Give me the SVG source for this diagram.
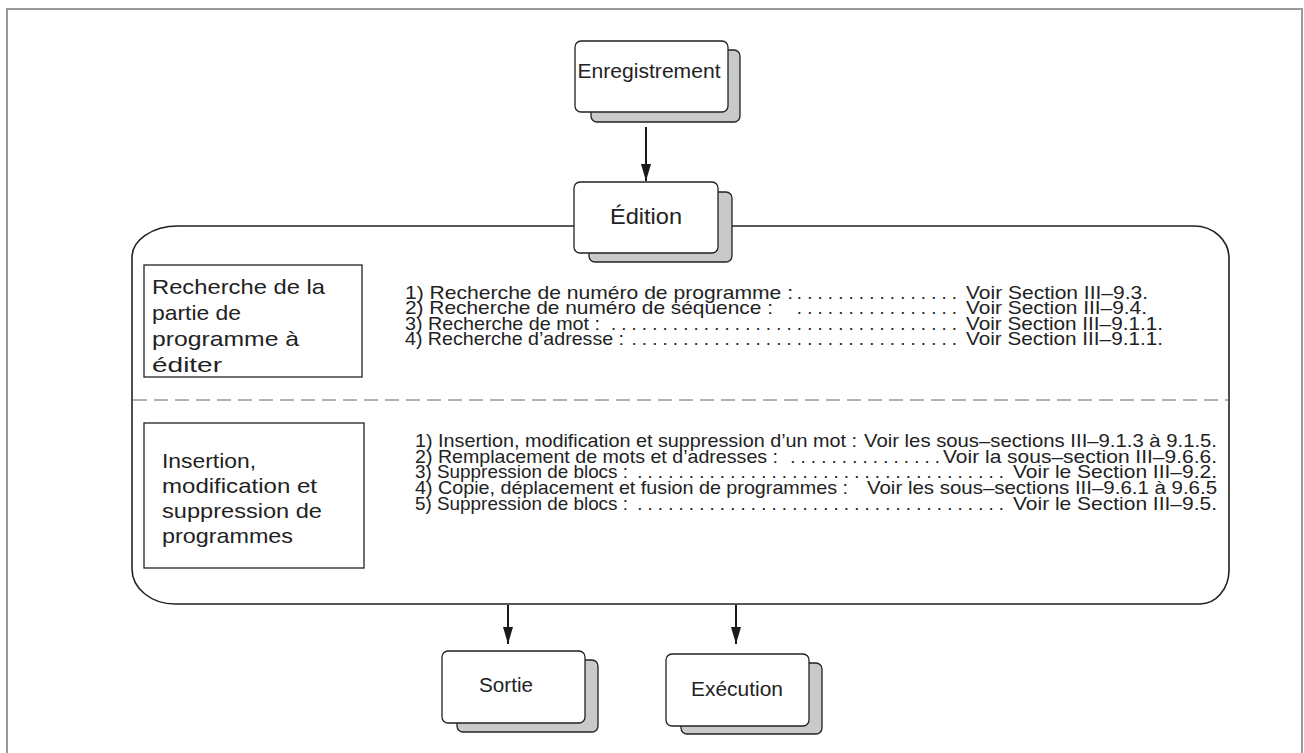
<svg xmlns="http://www.w3.org/2000/svg" width="1304" height="753" viewBox="0 0 1304 753">
  <style>
    .frame { fill: none; stroke: #9a9a9e; stroke-width: 2; }
    .container { fill: none; stroke: #222; stroke-width: 1.6; }
    .sep { stroke: #666; stroke-width: 1; stroke-dasharray: 14 7; }
    .shadow { fill: #c8c9cb; stroke: #222; stroke-width: 1.3; }
    .card { fill: #fff; stroke: #222; stroke-width: 1.3; }
    .box { fill: #fff; stroke: #222; stroke-width: 1.3; }
    .edge { stroke: #1a1a1a; stroke-width: 2; fill: none; marker-end: url(#arrow); }
    text { font-family: "Liberation Sans", Arial, sans-serif; fill: #222; }
    .title { font-size: 20px; text-anchor: middle; }
    .label { font-size: 21px; }
    .item { font-size: 18.6px; }
    .end { text-anchor: end; }
  </style>
  <defs>
    <marker id="arrow" markerUnits="userSpaceOnUse" markerWidth="18" markerHeight="12" refX="17" refY="5" orient="auto">
      <path d="M0,0 L17,5 L0,10 Z" fill="#1a1a1a"/>
    </marker>
  </defs>

  <!-- page frame -->
  <path class="frame" d="M7,760 V9 H1302 V760"/>

  <!-- editing area -->
  <g id="editing-area">
    <path class="container" d="M178,226 H1194 A35,32 0 0 1 1229,258 V570 A29,34 0 0 1 1200,604 H175 A43,35 0 0 1 132,569 V257 A46,31 0 0 1 178,226 Z"/>
    <line class="sep" x1="133" y1="400" x2="1228" y2="400"/>
  </g>

  <!-- connectors -->
  <g id="connectors">
    <line class="edge" x1="646" y1="127" x2="646" y2="181"/>
    <line class="edge" x1="508" y1="605" x2="508" y2="644"/>
    <line class="edge" x1="736" y1="605" x2="736" y2="644"/>
  </g>

  <g id="node-enregistrement">
    <rect class="shadow" x="591" y="50" width="149" height="72" rx="6"/>
    <rect class="card" x="575" y="41" width="153" height="71" rx="6"/>
    <text class="title" x="649" y="78" textLength="143" lengthAdjust="spacingAndGlyphs">Enregistrement</text>
  </g>

  <g id="node-edition">
    <rect class="shadow" x="589" y="192" width="143" height="70" rx="6"/>
    <rect class="card" x="574" y="182" width="144" height="71" rx="6"/>
    <text class="title" x="646" y="224" style="font-size:21.5px" textLength="72" lengthAdjust="spacingAndGlyphs">Édition</text>
  </g>

  <g id="node-recherche">
    <rect class="box" x="144" y="265" width="218" height="112"/>
    <text class="label" x="152" y="294" textLength="173" lengthAdjust="spacingAndGlyphs">Recherche de la</text>
    <text class="label" x="152" y="320" textLength="89" lengthAdjust="spacingAndGlyphs">partie de</text>
    <text class="label" x="152" y="346" textLength="147" lengthAdjust="spacingAndGlyphs">programme à</text>
    <text class="label" x="152" y="372" textLength="70" lengthAdjust="spacingAndGlyphs">éditer</text>
  </g>

  <g id="list-recherche">
    <text class="item" x="405" y="298.5" textLength="388" lengthAdjust="spacingAndGlyphs">1) Recherche de numéro de programme :</text>
    <text class="item end" x="957" y="298.5">. . . . . . . . . . . . . . . .</text>
    <text class="item" x="966" y="298.5" textLength="182" lengthAdjust="spacingAndGlyphs">Voir Section III–9.3.</text>

    <text class="item" x="405" y="314" textLength="368" lengthAdjust="spacingAndGlyphs">2) Recherche de numéro de séquence :</text>
    <text class="item end" x="957" y="314">. . . . . . . . . . . . . . . .</text>
    <text class="item" x="966" y="314" textLength="181" lengthAdjust="spacingAndGlyphs">Voir Section III–9.4.</text>

    <text class="item" x="405" y="329.7" textLength="195" lengthAdjust="spacingAndGlyphs">3) Recherche de mot :</text>
    <text class="item end" x="957" y="329.7">. . . . . . . . . . . . . . . . . . . . . . . . . . . . . . . . . .</text>
    <text class="item" x="966" y="329.7" textLength="197" lengthAdjust="spacingAndGlyphs">Voir Section III–9.1.1.</text>

    <text class="item" x="405" y="345.3" textLength="219" lengthAdjust="spacingAndGlyphs">4) Recherche d’adresse :</text>
    <text class="item end" x="957" y="345.3">. . . . . . . . . . . . . . . . . . . . . . . . . . . . . . . .</text>
    <text class="item" x="966" y="345.3" textLength="197" lengthAdjust="spacingAndGlyphs">Voir Section III–9.1.1.</text>
  </g>

  <g id="node-insertion">
    <rect class="box" x="144" y="423" width="220" height="145"/>
    <text class="label" x="162" y="468" textLength="94" lengthAdjust="spacingAndGlyphs">Insertion,</text>
    <text class="label" x="162" y="493" textLength="155" lengthAdjust="spacingAndGlyphs">modification et</text>
    <text class="label" x="162" y="518" textLength="160" lengthAdjust="spacingAndGlyphs">suppression de</text>
    <text class="label" x="162" y="543" textLength="131" lengthAdjust="spacingAndGlyphs">programmes</text>
  </g>

  <g id="list-insertion">
    <text class="item" x="415" y="447.2" textLength="442" lengthAdjust="spacingAndGlyphs">1) Insertion, modification et suppression d’un mot :</text>
    <text class="item end" x="1217" y="447.2" textLength="353" lengthAdjust="spacingAndGlyphs">Voir les sous–sections III–9.1.3 à 9.1.5.</text>

    <text class="item" x="415" y="462.8" textLength="363" lengthAdjust="spacingAndGlyphs">2) Remplacement de mots et d’adresses :</text>
    <text class="item end" x="940" y="462.8">. . . . . . . . . . . . . . .</text>
    <text class="item end" x="1217" y="462.8" textLength="274" lengthAdjust="spacingAndGlyphs">Voir la sous–section III–9.6.6.</text>

    <text class="item" x="415" y="478.4" textLength="213" lengthAdjust="spacingAndGlyphs">3) Suppression de blocs :</text>
    <text class="item end" x="1004" y="478.4">. . . . . . . . . . . . . . . . . . . . . . . . . . . . . . . . . . . .</text>
    <text class="item end" x="1217" y="478.4" textLength="204" lengthAdjust="spacingAndGlyphs">Voir le Section III–9.2.</text>

    <text class="item" x="415" y="494" textLength="433" lengthAdjust="spacingAndGlyphs">4) Copie, déplacement et fusion de programmes :</text>
    <text class="item end" x="1217" y="494" textLength="350" lengthAdjust="spacingAndGlyphs">Voir les sous–sections III–9.6.1 à 9.6.5</text>

    <text class="item" x="415" y="509.6" textLength="213" lengthAdjust="spacingAndGlyphs">5) Suppression de blocs :</text>
    <text class="item end" x="1004" y="509.6">. . . . . . . . . . . . . . . . . . . . . . . . . . . . . . . . . . . .</text>
    <text class="item end" x="1217" y="509.6" textLength="204" lengthAdjust="spacingAndGlyphs">Voir le Section III–9.5.</text>
  </g>

  <g id="node-sortie">
    <rect class="shadow" x="457" y="660" width="141" height="72" rx="6"/>
    <rect class="card" x="442" y="651" width="143" height="72" rx="6"/>
    <text class="title" x="506" y="692" textLength="54" lengthAdjust="spacingAndGlyphs">Sortie</text>
  </g>

  <g id="node-execution">
    <rect class="shadow" x="681" y="663" width="141" height="71" rx="6"/>
    <rect class="card" x="666" y="654" width="143" height="72" rx="6"/>
    <text class="title" x="737" y="696" textLength="92" lengthAdjust="spacingAndGlyphs">Exécution</text>
  </g>
</svg>
